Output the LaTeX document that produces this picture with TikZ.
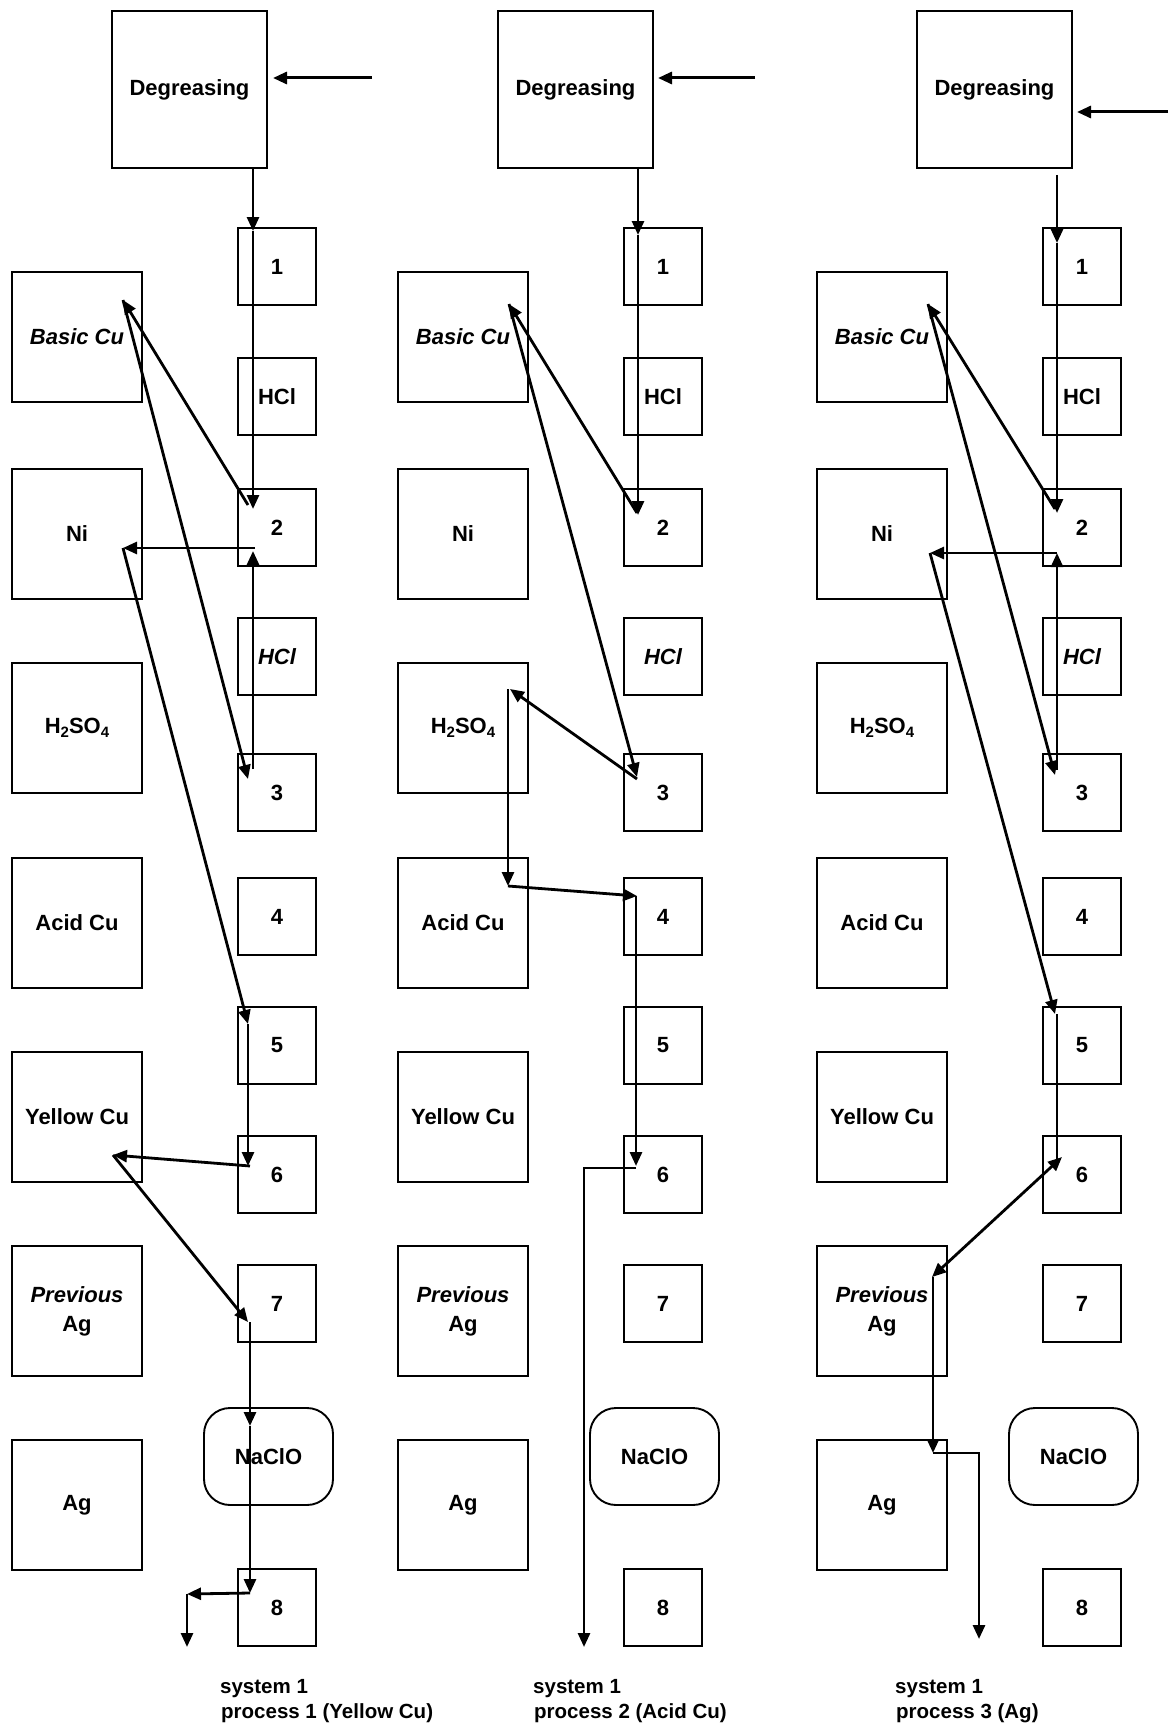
\documentclass[tikz,border=0pt]{standalone}
\usepackage{fontspec}
\setmainfont{Liberation Sans}
\usetikzlibrary{arrows.meta,calc}
\begin{document}
\begin{tikzpicture}[x=1pt,y=-1pt,
  box/.style={draw, line width=1.9pt, inner sep=0pt, align=center, font=\fontsize{22}{29}\selectfont\bfseries},
  lbox/.style={box, minimum width=130pt, minimum height=130pt},
  sbox/.style={box, minimum width=78pt, minimum height=77pt},
  rbox/.style={box, rounded corners=26pt, minimum width=129pt, minimum height=97pt},
  arr/.style={line width=2.8pt, -{Triangle[length=14pt,width=12pt]}},
  barr/.style={line width=2.8pt, {Triangle[length=14pt,width=12pt]}-{Triangle[length=14pt,width=12pt]}},
  captxt/.style={inner sep=0pt, font=\fontsize{20.5}{25}\selectfont\bfseries}]
\useasboundingbox (0,0) rectangle (1168,1723);

\foreach \c/\o in {a/0,b/386,c/805}{
  \node[box, minimum width=155pt, minimum height=157pt] (\c-deg) at (\o+189.5,89.5) {Degreasing};
  \node[sbox] (\c-1)    at (\o+277,266.5)  {1};
  \node[sbox] (\c-hcl)  at (\o+277,396.5)  {HCl};
  \node[sbox] (\c-2)    at (\o+277,527.5)  {2};
  \node[sbox] (\c-hcl2) at (\o+277,656.5)  {\itshape HCl};
  \node[sbox] (\c-3)    at (\o+277,792.5)  {3};
  \node[sbox] (\c-4)    at (\o+277,916.5)  {4};
  \node[sbox] (\c-5)    at (\o+277,1045.5) {5};
  \node[sbox] (\c-6)    at (\o+277,1174.5) {6};
  \node[sbox] (\c-7)    at (\o+277,1303.5) {7};
  \node[rbox] (\c-naclo) at (\o+268.5,1456.5) {NaClO};
  \node[sbox] (\c-8)    at (\o+277,1607.5) {8};
  \node[lbox] (\c-basic)  at (\o+77,337)  {\itshape Basic Cu};
  \node[lbox] (\c-ni)     at (\o+77,534)  {Ni};
  \node[lbox] (\c-h2so4)  at (\o+77,728)  {H\raisebox{-0.35ex}{\fontsize{15}{15}\selectfont 2}SO\raisebox{-0.35ex}{\fontsize{15}{15}\selectfont 4}};
  \node[lbox] (\c-acid)   at (\o+77,923)  {Acid Cu};
  \node[lbox] (\c-yellow) at (\o+77,1117) {Yellow Cu};
  \node[lbox] (\c-prev)   at (\o+77,1311) {{\itshape Previous}\\Ag};
  \node[lbox] (\c-ag)     at (\o+77,1505) {Ag};
}

% ---------- column a : process 1 ----------
\coordinate (a-inS) at ($(a-deg)+(182.5,-11.5)$);
\coordinate (a-inT) at ($(a-deg)+(83.5,-11.5)$);
\coordinate (a-top) at ($(a-deg)+(63.5,78.5)$);
\coordinate (a-t1) at ($(a-1)+(-24,-35.5)$);
\coordinate (a-t2) at ($(a-2)+(-24,-18.5)$);
\coordinate (a-s2) at ($(a-2)+(-29,-22.5)$);
\coordinate (a-tb) at ($(a-basic)+(46,-37)$);
\coordinate (a-t3) at ($(a-3)+(-29,-13.5)$);
\coordinate (a-s3) at ($(a-3)+(-24,-23.5)$);
\coordinate (a-t2u) at ($(a-2)+(-24,23.5)$);
\coordinate (a-s2n) at ($(a-2)+(-22,20.5)$);
\coordinate (a-tn) at ($(a-ni)+(46,14)$);
\coordinate (a-t5) at ($(a-5)+(-29,-21.5)$);
\coordinate (a-t6) at ($(a-6)+(-29,-8.5)$);
\coordinate (a-s6) at ($(a-6)+(-27,-8.5)$);
\coordinate (a-ty) at ($(a-yellow)+(36,38)$);
\coordinate (a-t7) at ($(a-7)+(-29,18.5)$);
\coordinate (a-s7) at ($(a-7)+(-27,18.5)$);
\coordinate (a-tn2) at ($(a-naclo)+(-18.5,-30.5)$);
\coordinate (a-t8) at ($(a-8)+(-27,-14.5)$);
\coordinate (a-o1) at ($(a-8)+(-90,-13.5)$);
\coordinate (a-o2) at ($(a-8)+(-90,39.5)$);

\draw[arr, line width=3pt] (a-inS) -- (a-inT);
\draw[arr] (a-top) -- (a-t1);
\draw[arr] (a-t1) -- (a-t2);
\draw[arr] (a-s2) -- (a-tb);
\draw[arr] (a-tb) -- (a-t3);
\draw[arr] (a-s3) -- (a-t2u);
\draw[arr] (a-s2n) -- (a-tn);
\draw[arr] (a-tn) -- (a-t5);
\draw[arr] (a-t5) -- (a-t6);
\draw[arr] (a-s6) -- (a-ty);
\draw[arr] (a-ty) -- (a-t7);
\draw[arr] (a-s7) -- (a-tn2);
\draw[arr] (a-tn2) -- (a-t8);
\draw[arr] (a-t8) -- (a-o1);
\draw[arr] (a-o1) -- (a-o2);

% ---------- column b : process 2 ----------
\coordinate (b-inS) at ($(b-deg)+(179.5,-11.5)$);
\coordinate (b-inT) at ($(b-deg)+(82.5,-11.5)$);
\coordinate (b-top) at ($(b-deg)+(62.5,77.5)$);
\coordinate (b-t1) at ($(b-1)+(-25,-31.5)$);
\coordinate (b-t2) at ($(b-2)+(-25,-12.5)$);
\coordinate (b-s2) at ($(b-2)+(-26,-14.5)$);
\coordinate (b-tb) at ($(b-basic)+(46,-33)$);
\coordinate (b-t3) at ($(b-3)+(-26,-15.5)$);
\coordinate (b-s3) at ($(b-3)+(-26,-13.5)$);
\coordinate (b-th) at ($(b-h2so4)+(47,-39)$);
\coordinate (b-sh) at ($(b-h2so4)+(45,-39)$);
\coordinate (b-ta) at ($(b-acid)+(45,-37)$);
\coordinate (b-t4) at ($(b-4)+(-26,-20.5)$);
\coordinate (b-s4) at ($(b-4)+(-27,-20.5)$);
\coordinate (b-t6) at ($(b-6)+(-27,-8.5)$);
\coordinate (b-s6) at ($(b-6)+(-27,-6.5)$);
\coordinate (b-c6) at ($(b-6)+(-79,-6.5)$);
\coordinate (b-o) at ($(b-6)+(-79,472.5)$);

\draw[arr, line width=3pt] (b-inS) -- (b-inT);
\draw[arr] (b-top) -- (b-t1);
\draw[arr] (b-t1) -- (b-t2);
\draw[arr] (b-s2) -- (b-tb);
\draw[arr] (b-tb) -- (b-t3);
\draw[arr] (b-s3) -- (b-th);
\draw[arr] (b-sh) -- (b-ta);
\draw[arr] (b-ta) -- (b-t4);
\draw[arr] (b-s4) -- (b-t6);
\draw[arr] (b-s6) -- (b-c6) -- (b-o);

% ---------- column c : process 3 ----------
\coordinate (c-inS) at ($(c-deg)+(173.5,22.5)$);
\coordinate (c-inT) at ($(c-deg)+(82.5,22.5)$);
\coordinate (c-top) at ($(c-deg)+(62.5,85.5)$);
\coordinate (c-t1) at ($(c-1)+(-25,-23.5)$);
\coordinate (c-t2) at ($(c-2)+(-25,-14.5)$);
\coordinate (c-s2) at ($(c-2)+(-27,-18.5)$);
\coordinate (c-tb) at ($(c-basic)+(46,-33)$);
\coordinate (c-t3) at ($(c-3)+(-27,-17.5)$);
\coordinate (c-s3) at ($(c-3)+(-25,-22.5)$);
\coordinate (c-t2u) at ($(c-2)+(-25,25.5)$);
\coordinate (c-tn) at ($(c-ni)+(48,19)$);
\coordinate (c-t5) at ($(c-5)+(-27,-31.5)$);
\coordinate (c-s5) at ($(c-5)+(-25,-31.5)$);
\coordinate (c-e6) at ($(c-6)+(-25,-14.5)$);
\coordinate (c-t6) at ($(c-6)+(-20,-17.5)$);
\coordinate (c-tp) at ($(c-prev)+(50,-34)$);
\coordinate (c-sp) at ($(c-prev)+(51,-34)$);
\coordinate (c-ta) at ($(c-ag)+(51,-52)$);
\coordinate (c-ca) at ($(c-ag)+(97,-52)$);
\coordinate (c-o) at ($(c-ag)+(97,134)$);

\draw[arr, line width=3pt] (c-inS) -- (c-inT);
\draw[arr] (c-top) -- (c-t1);
\draw[arr] (c-t1) -- (c-t2);
\draw[arr] (c-s2) -- (c-tb);
\draw[arr] (c-tb) -- (c-t3);
\draw[arr] (c-s3) -- (c-t2u);
\draw[arr] (c-t2u) -- (c-tn);
\draw[arr] (c-tn) -- (c-t5);
\draw[line width=2.8pt] (c-s5) -- (c-e6);
\draw[barr] (c-tp) -- (c-t6);
\draw[arr] (c-sp) -- (c-ta);
\draw[arr] (c-ta) -- (c-ca) -- (c-o);

% ---------- captions ----------
\node[captxt, anchor=base west] (capa1) at (220,1693) {system 1};
\node[captxt, anchor=base west] (capa2) at (221,1718) {process 1 (Yellow Cu)};
\node[captxt, anchor=base west] (capb1) at (533,1693) {system 1};
\node[captxt, anchor=base west] (capb2) at (534,1718) {process 2 (Acid Cu)};
\node[captxt, anchor=base west] (capc1) at (895,1693) {system 1};
\node[captxt, anchor=base west] (capc2) at (896,1718) {process 3 (Ag)};
\end{tikzpicture}
\end{document}
